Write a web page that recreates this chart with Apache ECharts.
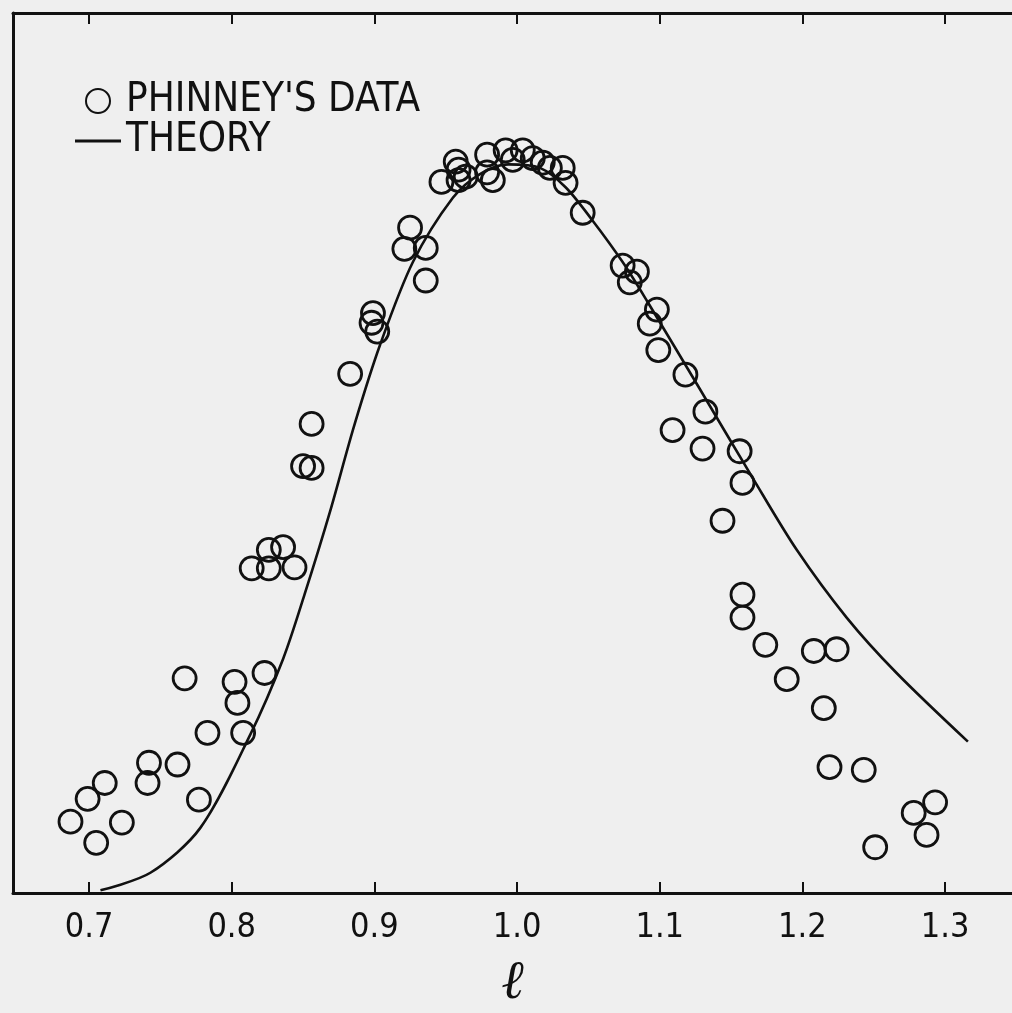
<!DOCTYPE html>
<html>
<head>
<meta charset="utf-8">
<script src="https://cdn.jsdelivr.net/npm/echarts@6/dist/echarts.min.js"></script>
<style>
html, body { margin: 0; padding: 0; background: #efefef; overflow: hidden; }
#chart { width: 1012px; height: 1013px; }
</style>
</head>
<body>
<div id="chart"></div>
<script>
// measured broken lengths (Phinney), l on x, relative count on y
var phinneyL = [
  0.687, 0.705, 0.699, 0.711, 0.723, 0.742, 0.741, 0.762, 0.777, 0.783,
  0.767, 0.802, 0.804, 0.808, 0.823, 0.814, 0.826, 0.836, 0.826, 0.844,
  0.856, 0.850, 0.856, 0.883, 0.899, 0.898, 0.902, 0.925, 0.921, 0.936,
  0.936, 0.957, 0.947, 0.959, 0.959, 0.964, 0.979, 0.979, 0.983, 0.992,
  0.997, 1.004, 1.011, 1.018, 1.023, 1.032, 1.034, 1.046, 1.074, 1.084,
  1.079, 1.098, 1.093, 1.099, 1.118, 1.132, 1.109, 1.130, 1.156, 1.158,
  1.144, 1.158, 1.158, 1.174, 1.208, 1.224, 1.189, 1.215, 1.219, 1.243,
  1.293, 1.278, 1.287, 1.251
];
var phinneyP = [
  8.1, 5.7, 10.7, 12.5, 8.0, 14.8, 12.5, 14.6, 10.6, 18.2,
  24.4, 24.0, 21.6, 18.2, 25.0, 36.9, 39.0, 39.3, 36.9, 37.0,
  53.3, 48.5, 48.3, 59.0, 65.9, 64.8, 63.8, 75.6, 73.2, 73.3,
  69.6, 83.1, 80.8, 82.2, 81.0, 81.4, 83.9, 81.9, 81.0, 84.4,
  83.3, 84.4, 83.5, 83.0, 82.4, 82.4, 80.7, 77.3, 71.3, 70.6,
  69.4, 66.3, 64.7, 61.7, 58.9, 54.7, 52.6, 50.5, 50.2, 46.6,
  42.3, 33.9, 31.3, 28.2, 27.5, 27.7, 24.3, 21.0, 14.3, 14.0,
  10.3, 9.1, 6.6, 5.2
];
// theory curve
var theoryL = [
  0.708, 0.743, 0.778, 0.813, 0.836, 0.851, 0.869, 0.886, 0.904, 0.927,
  0.955, 0.974, 0.994, 1.016, 1.034, 1.053, 1.074, 1.091, 1.128, 1.165,
  1.196, 1.231, 1.266, 1.316
];
var theoryP = [
  0.3, 2.3, 7.4, 18.0, 26.6, 33.9, 43.4, 53.2, 62.3, 71.7,
  79.0, 81.7, 82.8, 82.4, 80.2, 76.4, 71.7, 67.3, 57.3, 47.2,
  39.0, 31.3, 25.0, 17.2
];
var tickValues = [0.7, 0.8, 0.9, 1.0, 1.1, 1.2, 1.3];
var tickLabels = ["0.7", "0.8", "0.9", "1.0", "1.1", "1.2", "1.3"];

var ink = "#111";
var font = "'DejaVu Sans Condensed', 'Liberation Sans Narrow', 'DejaVu Sans', sans-serif";

var myChart = echarts.init(document.getElementById("chart"));
var option = {
  backgroundColor: "#efefef",
  animation: false,
  grid: { left: 13, top: 13, right: 0, bottom: 120, outerBoundsMode: "none" },
  legend: {
    orient: "vertical",
    left: 70,
    top: 76,
    itemWidth: 46,
    itemHeight: 24,
    itemGap: 0,
    textStyle: { color: ink, fontSize: 40, lineHeight: 36, fontFamily: font },
    data: [
      { name: "PHINNEY'S DATA" },
      { name: "THEORY", icon: "path://M0,0 L46,0 L46,3 L0,3 Z" }
    ]
  },
  xAxis: [
    {
      type: "value",
      position: "bottom",
      min: 0.6467,
      max: 1.3469,
      name: "ℓ",
      nameLocation: "middle",
      nameGap: 64,
      nameTextStyle: { color: ink, fontSize: 54, fontStyle: "italic", fontFamily: "DejaVu Serif, serif" },
      axisLine: { lineStyle: { color: ink, width: 3 } },
      axisTick: { inside: true, length: 11, customValues: tickValues, lineStyle: { color: ink, width: 2 } },
      axisLabel: {
        customValues: tickValues,
        color: ink,
        fontSize: 34,
        fontFamily: font,
        margin: 18,
        formatter: function(v) {
          return tickLabels[tickValues.indexOf(Math.round(v * 10) / 10)];
        }
      },
      splitLine: { show: false }
    },
    {
      type: "value",
      position: "top",
      min: 0.6467,
      max: 1.3469,
      axisLine: { lineStyle: { color: ink, width: 3 } },
      axisTick: { inside: true, length: 11, customValues: tickValues, lineStyle: { color: ink, width: 2 } },
      axisLabel: { show: false },
      splitLine: { show: false }
    }
  ],
  yAxis: {
    type: "value",
    min: 0,
    max: 100,
    axisLine: { show: true, lineStyle: { color: ink, width: 3 } },
    axisTick: { show: false },
    axisLabel: { show: false },
    splitLine: { show: false }
  },
  series: [
    {
      name: "PHINNEY'S DATA",
      type: "scatter",
      symbol: "circle",
      symbolSize: 23,
      data: phinneyL.map(function(l, i) { return [l, phinneyP[i]]; }),
      itemStyle: { color: "rgba(0,0,0,0)", borderColor: ink, borderWidth: 2.8, opacity: 1 }
    },
    {
      name: "THEORY",
      type: "line",
      smooth: 0.3,
      symbol: "none",
      data: theoryL.map(function(l, i) { return [l, theoryP[i]]; }),
      lineStyle: { color: ink, width: 2.6 },
      itemStyle: { color: ink }
    }
  ]
};
myChart.setOption(option);
</script>
</body>
</html>
